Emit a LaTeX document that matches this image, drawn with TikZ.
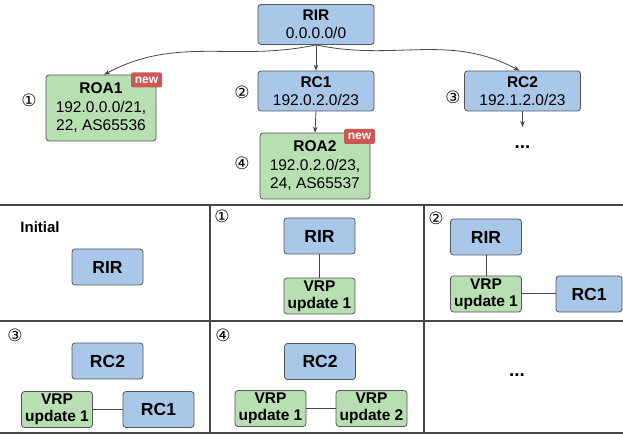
\documentclass[tikz,border=0pt]{standalone}
\usepackage{fontspec}
\setmainfont{Liberation Sans}
\newfontfamily\circfont{DejaVu Sans}
\definecolor{rirblue}{RGB}{169, 199, 232}
\definecolor{roagreen}{RGB}{184, 223, 178}
\definecolor{newred}{RGB}{204, 87, 84}
\definecolor{edgegray}{RGB}{85, 85, 85}
\definecolor{linegray}{RGB}{70, 70, 70}
\usetikzlibrary{
    arrows.meta,
    positioning
}

\tikzset{
    box/.style={draw=edgegray, line width=0.8pt, rounded corners=3pt, align=center, inner sep=0pt},
    bluebox/.style={box, fill=rirblue},
    greenbox/.style={box, fill=roagreen},
    bigbox/.style={minimum width=116pt, minimum height=40pt, font=\fontsize{15.5}{18}\selectfont},
    roabox/.style={minimum width=110pt, minimum height=66pt, font=\fontsize{15.5}{18.5}\selectfont},
    smallbox/.style={minimum width=71pt, minimum height=36pt, font=\fontsize{15.5}{17}\selectfont\bfseries},
    newtag/.style={fill=newred, text=white, rounded corners=2pt, inner sep=0pt, minimum width=31pt, minimum height=15pt, font=\fontsize{12}{12}\selectfont\bfseries},
    numlabel/.style={font=\circfont\fontsize{17}{17}\selectfont, inner sep=0pt},
    arrow/.style={draw=linegray, line width=0.8pt, -{Stealth[length=6pt, width=4.5pt]}},
    conn/.style={draw=linegray, line width=1pt},
    gridline/.style={draw=linegray, line width=1.2pt}
}

\begin{document}
\begin{tikzpicture}[x=1pt, y=-1pt]
    \useasboundingbox (0,0) rectangle (623,435);

    % Certificate tree
    \node[bluebox, bigbox] (rir) at (316,24.5) {\textbf{RIR}\\0.0.0.0/0};
    \node[greenbox, roabox] (roa1) at (101,108) {\textbf{ROA1}\\192.0.0.0/21,\\22, AS65536};
    \node[newtag] (new1) at (146.5,80) {new};
    \node[bluebox, bigbox] (rc1) at (316,91) {\textbf{RC1}\\192.0.2.0/23};
    \node[bluebox, bigbox] (rc2) at (522.5,91) {\textbf{RC2}\\192.1.2.0/23};
    \node[greenbox, roabox] (roa2) at (315,166) {\textbf{ROA2}\\192.0.2.0/23,\\24, AS65537};
    \node[newtag] (new2) at (359.5,136.5) {new};
    \coordinate (rc2end) at (522.5,127);
    \node[font=\fontsize{19}{19}\selectfont\bfseries] (moredots) at (522.5,147) {...};

    \node[numlabel] (stepa) at (29,100) {①};
    \node[numlabel] (stepb) at (242,92) {②};
    \node[numlabel] (stepc) at (453,97) {③};
    \node[numlabel] (stepd) at (242,163) {④};

    \draw[arrow] (rir.south) -- (rc1.north);
    \draw[arrow] (rir.south) to[out=192, in=28] ([xshift=3pt]roa1.north);
    \draw[arrow] (rir.south) to[out=-12, in=152] ([xshift=-3pt]rc2.north);
    \draw[arrow] (rc1.south) -- (roa2.north);
    \draw[arrow] (rc2.south) -- (rc2end);

    % Table of VRP states
    \draw[gridline] (0,205) -- (623,205);
    \draw[gridline] (0,321) -- (623,321);
    \draw[gridline] (0,433) -- (623,433);
    \draw[gridline] (210,205) -- (210,433);
    \draw[gridline] (424,205) -- (424,433);

    % Initial
    \node[font=\fontsize{15}{15}\selectfont\bfseries] (initlabel) at (40,227) {Initial};
    \node[bluebox, smallbox] (rirzero) at (107.5,267) {\fontsize{17.5}{17.5}\selectfont RIR};

    % step 1
    \node[numlabel] (cella) at (222,216) {①};
    \node[bluebox, smallbox] (rira) at (319.5,236) {\fontsize{17.5}{17.5}\selectfont RIR};
    \node[greenbox, smallbox] (vrpa) at (319.5,296) {VRP\\update 1};
    \draw[conn] (rira) -- (vrpa);

    % step 2
    \node[numlabel] (cellb) at (436,218) {②};
    \node[bluebox, smallbox] (rirb) at (486,237) {\fontsize{17.5}{17.5}\selectfont RIR};
    \node[greenbox, smallbox] (vrpb) at (486,294) {VRP\\update 1};
    \node[bluebox, smallbox, minimum width=66pt] (rconeb) at (589,294) {\fontsize{17.5}{17.5}\selectfont RC1};
    \draw[conn] (rirb) -- (vrpb);
    \draw[conn] (vrpb) -- (rconeb);

    % step 3
    \node[numlabel] (cellc) at (15,335) {③};
    \node[bluebox, smallbox] (rctwoc) at (107.5,361) {\fontsize{17.5}{17.5}\selectfont RC2};
    \node[greenbox, smallbox] (vrpc) at (57,409.5) {VRP\\update 1};
    \node[bluebox, smallbox] (rconec) at (158.5,409.5) {\fontsize{17.5}{17.5}\selectfont RC1};
    \draw[conn] (vrpc) -- (rconec);

    % step 4
    \node[numlabel] (celld) at (223,335) {④};
    \node[bluebox, smallbox] (rctwod) at (320,361.5) {\fontsize{17.5}{17.5}\selectfont RC2};
    \node[greenbox, smallbox] (vrpd) at (270.5,408.5) {VRP\\update 1};
    \node[greenbox, smallbox] (vrpdd) at (371.5,408.5) {VRP\\update 2};
    \draw[conn] (vrpd) -- (vrpdd);

    % later steps
    \node[font=\fontsize{19}{19}\selectfont\bfseries] (celldots) at (517,375) {...};
\end{tikzpicture}
\end{document}
